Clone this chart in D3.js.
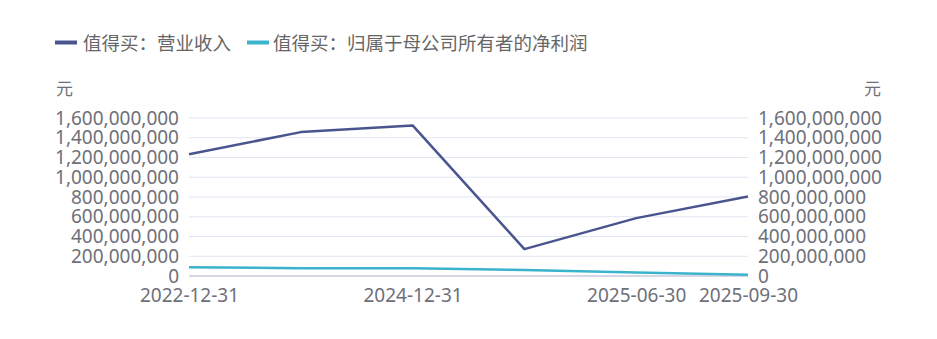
<!DOCTYPE html>
<html><head><meta charset="utf-8">
<script src="https://cdn.jsdelivr.net/npm/d3@7"></script>
<style>body{margin:0;background:#fff;}svg{display:block;font-family:"Noto Sans CJK SC","Noto Sans",sans-serif;}</style>
</head><body>
<svg id="c" width="937" height="339"></svg>
<script>
const categories = ["2022-12-31","2023-12-31","2024-12-31","2025-03-31","2025-06-30","2025-09-30"];
const shownLabels = ["2022-12-31","2024-12-31","2025-06-30","2025-09-30"];
const revenue = [1233000000,1457000000,1525000000,272000000,586000000,806000000];
const netProfit = [89000000,78000000,79000000,61000000,36000000,12000000];
const yTicks = [0,200000000,400000000,600000000,800000000,1000000000,1200000000,1400000000,1600000000];
const seriesNames = ["值得买：营业收入","值得买：归属于母公司所有者的净利润"];
const colors = ["#4a5590","#3ab4cc"];

(function(){
const svg = d3.select("#c");
const pL = 189, pR = 748, pT = 118, pB = 276;
const x = d3.scalePoint().domain(categories).range([pL, pR]);
const y = d3.scaleLinear().domain([0,1600000000]).range([pB, pT]);
const fmt = d3.format(",");
const txt = "#6e7079";

svg.append("g").selectAll("line").data(yTicks.slice(1)).join("line")
  .attr("x1", pL).attr("x2", pR)
  .attr("y1", d=>y(d)).attr("y2", d=>y(d))
  .attr("stroke", "#e0e6f1").attr("stroke-width", 1);

const yl = d3.axisLeft(y).tickValues(yTicks).tickFormat(fmt).tickSize(0).tickPadding(10);
const gl = svg.append("g").attr("transform", `translate(${pL},0)`).call(yl);
const yr = d3.axisRight(y).tickValues(yTicks).tickFormat(fmt).tickSize(0).tickPadding(10);
const gr = svg.append("g").attr("transform", `translate(${pR},0)`).call(yr);
[gl, gr].forEach(g => {
  g.select(".domain").remove();
  g.selectAll("text").attr("fill", txt).style("font-size","19px").style("font-family","'Noto Sans',sans-serif");
});

const xa = d3.axisBottom(x).tickValues(shownLabels).tickSize(0).tickPadding(13);
const gx = svg.append("g").attr("transform", `translate(0,${pB})`).call(xa);
gx.select(".domain").attr("stroke", "#c8c9dc").attr("stroke-width", 1.5).attr("d", `M${pL},0H${pR}`);
gx.selectAll("text").attr("fill", txt).style("font-size","19px").style("font-family","'Noto Sans',sans-serif");

svg.append("text").attr("x", 56).attr("y", 95).attr("fill", txt).style("font-size","17px").text("元");
svg.append("text").attr("x", 881).attr("y", 95).attr("text-anchor","end").attr("fill", txt).style("font-size","17px").text("元");

const line = d3.line().x((d,i)=>x(categories[i])).y(d=>y(d));
[revenue, netProfit].forEach((s,i) => {
  svg.append("path").attr("d", line(s)).attr("fill","none")
    .attr("stroke", colors[i]).attr("stroke-width", 2.5).attr("stroke-linejoin","round");
});

const leg = [{x:55, tx:83},{x:247, tx:273}];
seriesNames.forEach((n,i) => {
  svg.append("line").attr("x1", leg[i].x).attr("x2", leg[i].x+22).attr("y1", 42.5).attr("y2", 42.5)
    .attr("stroke", colors[i]).attr("stroke-width", 4);
  svg.append("text").attr("x", leg[i].tx).attr("y", 50).attr("fill", "#666").style("font-size","18.5px").text(n);
});
})();
</script>
</body></html>
